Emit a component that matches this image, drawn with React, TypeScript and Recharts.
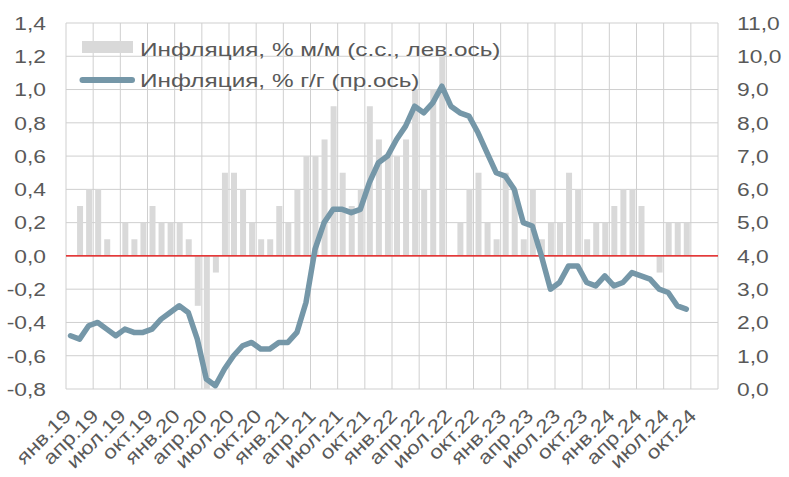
import React from 'react';
import {
  ComposedChart,
  Bar,
  Line,
  XAxis,
  YAxis,
  CartesianGrid,
  ReferenceLine,
  Legend,
} from 'recharts';

// ---- data ----
const MONTH_ABBR = ['янв', 'фев', 'мар', 'апр', 'май', 'июн', 'июл', 'авг', 'сен', 'окт', 'ноя', 'дек'];
const YEARS = ['19', '20', '21', '22', '23', '24'];

// Инфляция, % м/м (с.с.) — Jan 2019 .. Sep 2024
const MOM = [
  0.0, 0.3, 0.4, 0.4, 0.1, 0.0, 0.2, 0.1, 0.2, 0.3, 0.2, 0.2,
  0.2, 0.1, -0.3, -0.8, -0.1, 0.5, 0.5, 0.4, 0.2, 0.1, 0.1, 0.3,
  0.2, 0.4, 0.6, 0.6, 0.7, 0.9, 0.5, 0.3, 0.4, 0.9, 0.7, 0.6,
  0.6, 0.7, 1.0, 0.4, 1.0, 1.2, 0.0, 0.2, 0.4, 0.5, 0.2, 0.1,
  0.5, 0.4, 0.1, 0.4, 0.1, 0.2, 0.2, 0.5, 0.4, 0.1, 0.2, 0.2,
  0.3, 0.4, 0.4, 0.3, 0.0, -0.1, 0.2, 0.2, 0.2,
];

// Инфляция, % г/г — Jan 2019 .. Sep 2024
const YOY = [
  1.6, 1.5, 1.9, 2.0, 1.8, 1.6, 1.8, 1.7, 1.7, 1.8, 2.1, 2.3,
  2.5, 2.3, 1.5, 0.3, 0.1, 0.6, 1.0, 1.3, 1.4, 1.2, 1.2, 1.4,
  1.4, 1.7, 2.6, 4.2, 5.0, 5.4, 5.4, 5.3, 5.4, 6.2, 6.8, 7.0,
  7.5, 7.9, 8.5, 8.3, 8.6, 9.1, 8.5, 8.3, 8.2, 7.7, 7.1, 6.5,
  6.4, 6.0, 5.0, 4.9, 4.0, 3.0, 3.2, 3.7, 3.7, 3.2, 3.1, 3.4,
  3.1, 3.2, 3.5, 3.4, 3.3, 3.0, 2.9, 2.5, 2.4,
];

const LEFT_TICKS = [-0.8, -0.6, -0.4, -0.2, 0, 0.2, 0.4, 0.6, 0.8, 1.0, 1.2, 1.4];
const RIGHT_TICKS = [0, 1, 2, 3, 4, 5, 6, 7, 8, 9, 10, 11];

const LEGEND_MOM = 'Инфляция, % м/м (с.с., лев.ось)';
const LEGEND_YOY = 'Инфляция, % г/г (пр.ось)';

const data = YEARS.flatMap((yy, yi) =>
  MONTH_ABBR.map((m, mi) => {
    const i = yi * 12 + mi;
    return {
      month: `${m}.${yy}`,
      mom: i < MOM.length ? MOM[i] : null,
      yoy: i < YOY.length ? YOY[i] : null,
    };
  })
);

// ---- style ----
const FONT = '"Liberation Sans", Arial, sans-serif';
const FS = 19;
const SX = 1.2;
const LEG_SX = 1.28;
const TXT = '#595959';
const BAR_COLOR = '#D9D9D9';
const LINE_COLOR = '#7597A8';
const GRID_COLOR = '#CFCFCF';

const fmt = (v: number) => (Math.round(v * 10) / 10).toFixed(1).replace('.', ',').replace('-0,0', '0,0');

const LeftTick = (props: any) => {
  const { x, y, payload } = props;
  return (
    <text
      transform={`translate(${x},${y}) scale(${SX},1)`}
      textAnchor="end"
      dy="0.36em"
      fontFamily={FONT}
      fontSize={FS}
      fill={TXT}
    >
      {fmt(payload.value)}
    </text>
  );
};

const RightTick = (props: any) => {
  const { x, y, payload } = props;
  return (
    <text
      transform={`translate(${x},${y}) scale(${SX},1)`}
      textAnchor="start"
      dy="0.36em"
      fontFamily={FONT}
      fontSize={FS}
      fill={TXT}
    >
      {fmt(payload.value)}
    </text>
  );
};

const XTick = (props: any) => {
  const { x, y, payload } = props;
  return (
    <text
      transform={`translate(${x + 2},${y + 28}) rotate(-45) scale(${SX},1)`}
      textAnchor="end"
      fontFamily={FONT}
      fontSize={FS}
      fill={TXT}
    >
      {payload.value}
    </text>
  );
};

const renderLegend = () => (
  <svg width={600} height={100} style={{ display: 'block', overflow: 'visible' }}>
    <rect x={82} y={41} width={51} height={12} fill={BAR_COLOR} />
    <text
      transform={`translate(140,56) scale(${LEG_SX},1)`}
      fontFamily={FONT}
      fontSize={FS}
      fill={TXT}
    >
      {LEGEND_MOM}
    </text>
    <line x1={82.5} x2={132} y1={80} y2={80} stroke={LINE_COLOR} strokeWidth={6} strokeLinecap="round" />
    <text
      transform={`translate(140,87) scale(${LEG_SX},1)`}
      fontFamily={FONT}
      fontSize={FS}
      fill={TXT}
    >
      {LEGEND_YOY}
    </text>
  </svg>
);

const N_CATS = MONTH_ABBR.length * YEARS.length;

export default function App() {
  return (
    <div style={{ position: 'absolute', left: 0, top: 0, width: 789, height: 477, background: '#fff' }}>
      <ComposedChart
        width={789}
        height={477}
        data={data}
        margin={{ top: 23, right: 0, bottom: 0, left: 0 }}
      >
        <CartesianGrid
          yAxisId="left"
          stroke={GRID_COLOR}
          strokeWidth={1}
          verticalCoordinatesGenerator={({ offset }: any) => {
            const arr: number[] = [];
            for (let k = 0; k <= N_CATS; k += 3) {
              arr.push(offset.left + (k * offset.width) / N_CATS);
            }
            return arr;
          }}
        />
        <XAxis
          dataKey="month"
          type="category"
          interval={2}
          height={88}
          axisLine={false}
          tickLine={false}
          tickSize={0}
          tickMargin={0}
          tick={<XTick />}
        />
        <YAxis
          yAxisId="left"
          orientation="left"
          width={66}
          domain={[-0.8, 1.4]}
          ticks={LEFT_TICKS}
          interval={0}
          allowDataOverflow
          axisLine={false}
          tickLine={false}
          tickSize={0}
          tickMargin={20}
          tick={<LeftTick />}
        />
        <YAxis
          yAxisId="right"
          orientation="right"
          width={71}
          domain={[0, 11]}
          ticks={RIGHT_TICKS}
          interval={0}
          allowDataOverflow
          axisLine={false}
          tickLine={false}
          tickSize={0}
          tickMargin={19}
          tick={<RightTick />}
        />
        <Bar
          yAxisId="left"
          dataKey="mom"
          fill={BAR_COLOR}
          barSize={6}
          isAnimationActive={false}
        />
        <ReferenceLine yAxisId="left" y={0} stroke="#E60000" strokeWidth={1.2} />
        <Line
          yAxisId="right"
          dataKey="yoy"
          type="linear"
          stroke={LINE_COLOR}
          strokeWidth={5.5}
          strokeLinejoin="round"
          strokeLinecap="round"
          dot={false}
          activeDot={false}
          isAnimationActive={false}
        />
        <Legend
          layout="horizontal"
          verticalAlign="middle"
          align="center"
          wrapperStyle={{ top: 0, left: 0, width: 600, height: 100, pointerEvents: 'none' }}
          content={renderLegend}
        />
      </ComposedChart>
    </div>
  );
}
